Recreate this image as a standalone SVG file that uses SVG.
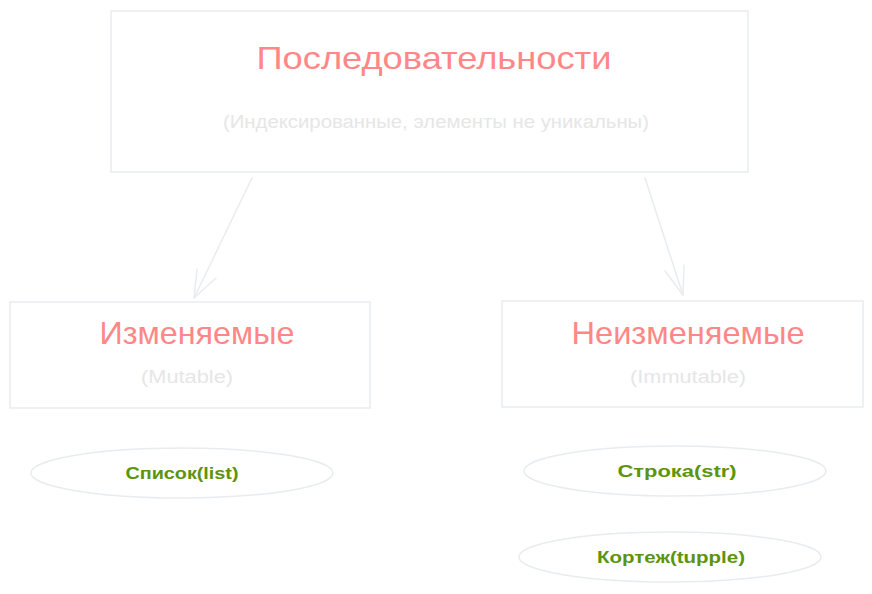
<svg xmlns="http://www.w3.org/2000/svg" width="872" height="594" viewBox="0 0 872 594">
<defs>
<style>
.box{fill:#ffffff;stroke:#e9ecef;stroke-width:1.5}
.title{font-family:"Liberation Sans",sans-serif;fill:#ff8787;text-anchor:middle}
.sub{font-family:"Liberation Sans",sans-serif;fill:#e6e6e6;text-anchor:middle;font-size:18px}
.item{font-family:"Liberation Sans",sans-serif;fill:#5c940d;text-anchor:middle;font-size:16px;font-weight:bold}
.conn{fill:none;stroke:#e9ecef;stroke-width:1.5;stroke-linecap:round;stroke-linejoin:round}
</style>
</defs>
<rect width="872" height="594" fill="#ffffff"/>
<g id="connectors">
<path class="conn" d="M252 178 L194 298"/>
<path class="conn" d="M194 298 L197 269 M194 298 L216 278"/>
<path class="conn" d="M645 178 L683 295"/>
<path class="conn" d="M683 295 L684 265 M683 295 L665 271"/>
</g>
<g id="node-sequences">
<rect class="box" x="111" y="11" width="637" height="161"/>
<text class="title" x="434" y="69" font-size="32" textLength="355" lengthAdjust="spacingAndGlyphs">Последовательности</text>
<text class="sub" x="436" y="128" textLength="426" lengthAdjust="spacingAndGlyphs">(Индексированные, элементы не уникальны)</text>
</g>
<g id="node-mutable">
<rect class="box" x="10" y="302" width="360" height="106"/>
<text class="title" x="197" y="344" font-size="32" textLength="195" lengthAdjust="spacingAndGlyphs">Изменяемые</text>
<text class="sub" x="187" y="383" textLength="92" lengthAdjust="spacingAndGlyphs">(Mutable)</text>
</g>
<g id="node-immutable">
<rect class="box" x="502" y="301" width="361" height="106"/>
<text class="title" x="688" y="344" font-size="32" textLength="233" lengthAdjust="spacingAndGlyphs">Неизменяемые</text>
<text class="sub" x="688" y="383" textLength="116" lengthAdjust="spacingAndGlyphs">(Immutable)</text>
</g>
<g id="node-list">
<ellipse class="box" cx="182" cy="473" rx="151" ry="25"/>
<text class="item" x="182" y="479" textLength="113" lengthAdjust="spacingAndGlyphs">Список(list)</text>
</g>
<g id="node-str">
<ellipse class="box" cx="675" cy="471" rx="151" ry="25"/>
<text class="item" x="677" y="477" textLength="119" lengthAdjust="spacingAndGlyphs">Строка(str)</text>
</g>
<g id="node-tuple">
<ellipse class="box" cx="670" cy="557" rx="151" ry="25"/>
<text class="item" x="671" y="563" textLength="148" lengthAdjust="spacingAndGlyphs">Кортеж(tupple)</text>
</g>
</svg>
